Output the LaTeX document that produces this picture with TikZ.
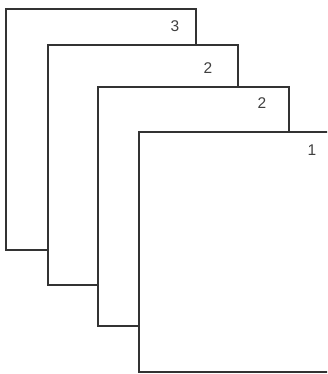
\documentclass[tikz,border=0pt]{standalone}
\usepackage{fontspec}
\setmainfont{Liberation Sans}
\begin{document}
\begin{tikzpicture}[x=1pt,y=-1pt,line join=miter,font=\fontsize{15.5}{18}\selectfont]
\tikzset{page/.style={draw=black!80,fill=white,line width=1.3pt},
  pagenum/.style={text=black!75,inner sep=0pt}}
\useasboundingbox (0,0) rectangle (327,374);
\clip (0,0) rectangle (327,374);
% pages, back to front
\draw[page] (6,9) rectangle (196,250);
\node[pagenum] (num3) at (175,26) {3};
\draw[page] (48,45) rectangle (238,285);
\node[pagenum] (num2a) at (208,68) {2};
\draw[page] (98,87) rectangle (289,326);
\node[pagenum] (num2b) at (262,103) {2};
\draw[page] (139,132) rectangle (345,372);
\node[pagenum] (num1) at (312,150) {1};
\end{tikzpicture}
\end{document}
